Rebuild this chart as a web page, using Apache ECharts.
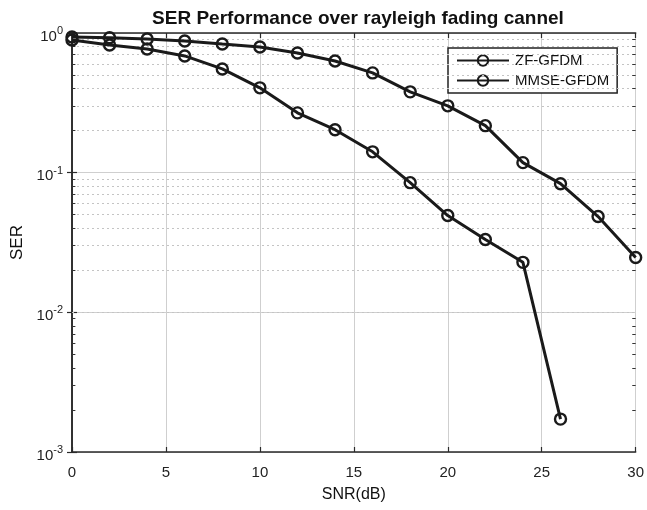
<!DOCTYPE html>
<html>
<head>
<meta charset="utf-8">
<script src="https://cdn.jsdelivr.net/npm/echarts@6/dist/echarts.min.js"></script>
<style>
html,body{margin:0;padding:0;background:#fff;}
#main{width:647px;height:510px;}
</style>
</head>
<body>
<div id="main"></div>
<script>
var snrZF = [0,2,4,6,8,10,12,14,16,18,20,22,24,26,28,30];
var serZF = [0.936,0.925,0.906,0.877,0.834,0.794,0.72,0.63,0.518,0.379,0.301,0.217,0.118,0.0834,0.0485,0.0247];
var snrMMSE = [0,2,4,6,8,10,12,14,16,18,20,22,24,26];
var serMMSE = [0.891,0.821,0.769,0.685,0.553,0.405,0.268,0.203,0.141,0.0848,0.0493,0.0332,0.0228,0.00172];
var decades = [0.001,0.01,0.1,1];

var myChart = echarts.init(document.getElementById('main'));

function pairs(xs, ys){
    var out = [];
    for (var i = 0; i < xs.length; i++) out.push([xs[i], ys[i]]);
    return out;
}

// dotted minor grid lines + short minor ticks (2..9 in every decade)
var minorLines = [], minorTicks = [];
for (var d = 0; d < decades.length - 1; d++) {
    for (var m = 2; m <= 9; m++) {
        var v = decades[d] * m;
        minorLines.push({yAxis: v});
        minorTicks.push([{coord: [0, v]}, {coord: [0.18, v]}]);
        minorTicks.push([{coord: [29.82, v]}, {coord: [30, v]}]);
    }
}

var lineColor = '#1a1a1a';
var font = 'Liberation Sans';
var axisCommon = {
    axisLine: {show: true, lineStyle: {color: '#2a2a2a', width: 1.6}},
    axisTick: {show: true, inside: true, length: 5, lineStyle: {color: '#2a2a2a', width: 1.2}}
};

var option = {
    animation: false,
    backgroundColor: '#fff',
    title: {
        text: 'SER Performance over rayleigh fading cannel',
        left: 353,
        top: 4,
        textAlign: 'center',
        textStyle: {fontFamily: font, fontSize: 19, fontWeight: 'bold', color: '#111'}
    },
    legend: {
        orient: 'vertical',
        left: 448,
        top: 48,
        padding: [5, 8, 5, 8],
        itemGap: 5,
        itemWidth: 52,
        itemHeight: 13,
        borderColor: '#222',
        borderWidth: 1.5,
        backgroundColor: '#fff',
        textStyle: {fontFamily: font, fontSize: 15, color: '#111', padding: [0, 0, 0, 1]},
        data: ['ZF-GFDM', 'MMSE-GFDM']
    },
    grid: {left: 72, right: 11, top: 33, bottom: 58, containLabel: false},
    xAxis: [
        Object.assign({
            type: 'value', min: 0, max: 30, interval: 5,
            name: 'SNR(dB)', nameLocation: 'middle', nameGap: 35,
            nameTextStyle: {fontFamily: font, fontSize: 16, color: '#111'},
            axisLabel: {fontFamily: font, fontSize: 15, color: '#222', margin: 13},
            splitLine: {show: true, lineStyle: {color: '#cfcfcf', width: 1}}
        }, axisCommon),
        Object.assign({
            type: 'value', min: 0, max: 30, interval: 5, position: 'top',
            axisLabel: {show: false}, splitLine: {show: false}
        }, axisCommon)
    ],
    yAxis: [
        Object.assign({
            type: 'log', logBase: 10, min: 0.001, max: 1,
            name: 'SER', nameLocation: 'middle', nameGap: 43, nameRotate: 90,
            nameTextStyle: {fontFamily: font, fontSize: 17, color: '#111'},
            axisLabel: {
                color: '#222', margin: 9,
                formatter: function(v){
                    return '{b|10}{s|' + Math.round(Math.log10(v)) + '}';
                },
                rich: {
                    b: {fontFamily: font, fontSize: 15, color: '#222', padding: [7, 0, 0, 0]},
                    s: {fontFamily: font, fontSize: 11, color: '#222', padding: [0, 0, 4, 0]}
                }
            },
            splitLine: {show: true, lineStyle: {color: '#cfcfcf', width: 1}}
        }, axisCommon),
        Object.assign({
            type: 'log', logBase: 10, min: 0.001, max: 1, position: 'right',
            axisLabel: {show: false}, splitLine: {show: false}
        }, axisCommon)
    ],
    series: [
        {
            name: 'ZF-GFDM',
            type: 'line',
            data: pairs(snrZF, serZF),
            symbol: 'circle',
            symbolSize: 11,
            lineStyle: {color: lineColor, width: 3},
            itemStyle: {color: 'rgba(0,0,0,0)', borderColor: lineColor, borderWidth: 2.4},
            z: 5,
            markLine: {
                silent: true,
                symbol: 'none',
                label: {show: false},
                lineStyle: {color: '#c4c4c4', type: [2, 3], width: 1},
                data: minorLines
            }
        },
        {
            name: 'MMSE-GFDM',
            type: 'line',
            data: pairs(snrMMSE, serMMSE),
            symbol: 'circle',
            symbolSize: 11,
            lineStyle: {color: lineColor, width: 3},
            itemStyle: {color: 'rgba(0,0,0,0)', borderColor: lineColor, borderWidth: 2.4},
            z: 5,
            markLine: {
                silent: true,
                symbol: 'none',
                label: {show: false},
                lineStyle: {color: '#333', type: 'solid', width: 1},
                data: minorTicks
            }
        }
    ]
};

myChart.setOption(option);
</script>
</body>
</html>
